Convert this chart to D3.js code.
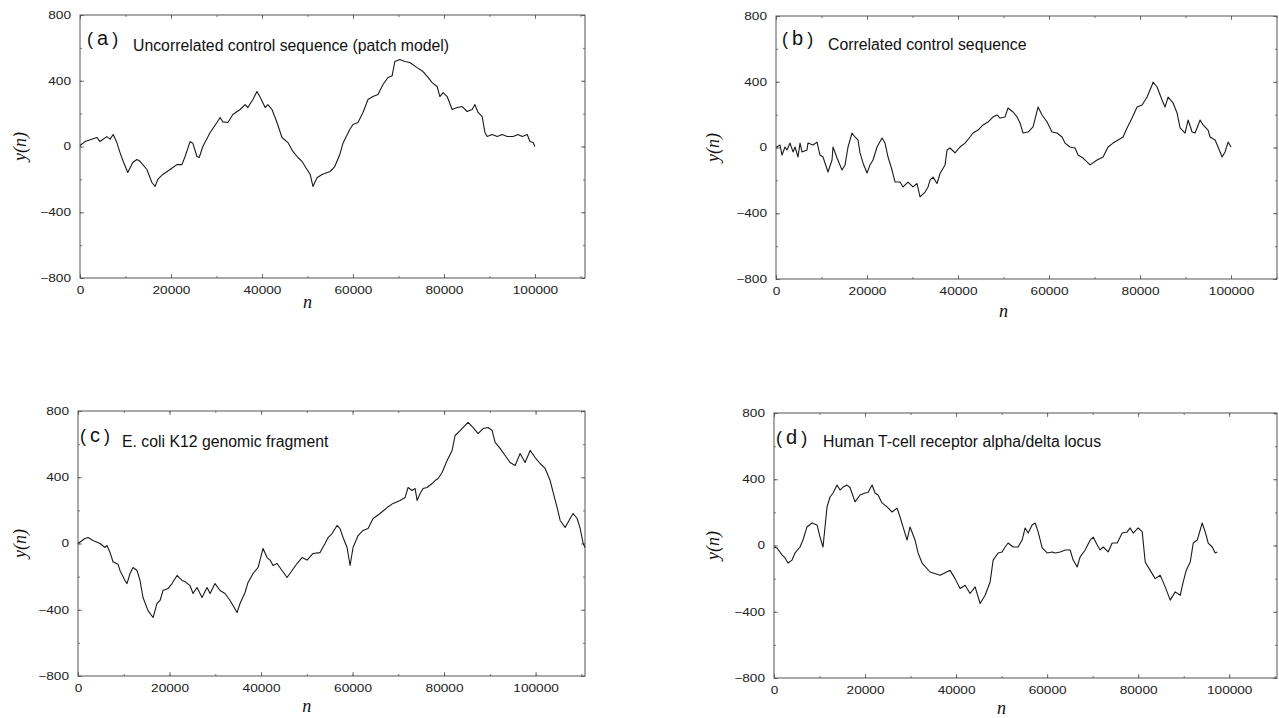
<!DOCTYPE html>
<html><head><meta charset="utf-8">
<script src="https://cdn.jsdelivr.net/npm/d3@7"></script>
<style>body{margin:0;background:#fff}svg{display:block}</style>
</head><body><svg id="chart" width="1279" height="718"></svg>
<script>
// ---- tick values ----
const xTicks = [0, 20000, 40000, 60000, 80000, 100000];
const xMinorTicks = [0,10000,20000,30000,40000,50000,60000,70000,80000,90000,100000,110000];
const yTicks = [-800, -400, 0, 400, 800];
const yMinorTicks = [-800,-600,-400,-200,0,200,400,600,800];
const panelLetters = ["a", "b", "c", "d"];
const panelTitles = ["Uncorrelated control sequence (patch model)", "Correlated control sequence",
  "E. coli K12 genomic fragment", "Human T-cell receptor alpha/delta locus"];
const xDomainMax = [111000, 110100, 110800, 110500];

// ---- series (a) ----
const nA = [0,1100,3700,4400,5900,6600,7300,8100,8800,9500,10500,11600,12500,13200,14700,15800,16500,17100,18200,19800,21300,22400,23100,24200,24800,25700,26200,27000,28600,30100,30800,31400,32500,33600,35200,36300,36900,38000,38900,39600,40700,41300,42200,43300,44400,45700,46800,47900,48800,49900,50600,51200,52100,53200,55000,56000,57100,57800,59300,60000,61100,62200,63300,64400,65500,66600,67700,68600,69200,70300,71400,72500,74100,75400,76500,77400,78500,79100,79800,80700,81800,82900,84000,85100,86200,86800,87500,88400,89000,89500,90600,91700,92800,93900,95200,96300,97200,98300,98900,99600,100000];
const yA = [6,30,55,30,60,45,73,24,-37,-91,-158,-97,-79,-90,-140,-219,-243,-200,-170,-140,-110,-110,-61,30,20,-61,-67,0,85,146,176,150,146,195,225,255,237,286,335,300,237,255,225,146,55,24,-30,-67,-91,-140,-170,-243,-190,-170,-152,-122,-49,20,103,134,146,207,286,304,316,377,420,430,517,529,517,511,480,456,420,389,365,304,328,304,225,237,243,213,225,255,207,182,85,61,73,61,73,61,61,73,61,73,30,24,0];

// ---- series (b) ----
const nB = [0,880,1320,1980,2420,3080,3740,4180,4840,5280,5710,6810,7030,8130,9010,9670,10330,11430,12310,12530,13410,14510,15170,15830,16700,17360,18020,18460,19120,20000,20660,21320,22200,23300,23960,24620,25500,26160,27260,27910,29010,30110,30990,31650,32750,33410,33850,34510,35390,36050,37150,37590,38250,39340,40440,41540,42640,43300,44400,45500,46600,47700,48580,49240,50330,50990,52090,52970,53630,54290,55390,56490,57590,58470,59570,60660,61760,62860,63520,64620,65720,66380,67480,69020,70560,71880,72970,74070,75170,76270,77150,78250,79350,80450,81550,82650,82870,83740,84840,85500,86160,87260,88140,88800,89900,90560,91440,92100,93200,93850,94950,95390,96490,97150,98030,98690,99350,100000];
const yB = [0,15,-46,3,-15,27,-27,3,-58,27,-27,-15,27,15,33,-46,-58,-149,-76,3,-64,-137,-106,3,88,64,46,-33,-94,-155,-106,-76,3,58,27,-58,-137,-210,-210,-240,-210,-240,-219,-301,-271,-240,-198,-180,-219,-158,-106,-15,-3,-33,3,27,64,88,106,137,155,186,198,179,186,240,216,186,149,88,94,125,246,198,155,94,88,64,27,3,-3,-46,-64,-106,-76,-58,3,27,46,64,119,179,246,259,307,380,398,368,289,246,307,271,210,119,88,167,94,88,167,137,106,64,46,3,-58,-27,33,3];

// ---- series (c) ----
const nC = [0,1530,2190,3280,4810,5900,6340,7000,7650,8740,9180,10270,10710,11370,12020,12900,13550,14210,15300,16400,17270,17930,18580,19670,20550,21640,22740,23390,24480,25140,26010,27110,28200,28860,29950,31040,32130,33230,33880,34760,35410,36510,37160,38260,39350,40440,41320,41970,42630,43500,44590,45690,46780,47870,48970,50060,51370,52900,53990,54650,55520,56620,57270,57930,58800,59460,60110,61210,62300,63390,64490,66020,67550,68860,70390,71480,72140,73010,73670,74110,74760,75420,76290,77380,78040,78700,79570,80660,81760,82410,83510,84600,85250,86350,87440,88530,89630,90500,91160,92250,93340,94440,95530,96620,97710,98810,99900,100990,102090,103180,103840,104710,105370,106460,107550,108210,109080,109740,110390,110830];
const yC = [0,30,36,18,0,-24,-12,-54,-110,-125,-163,-223,-242,-181,-145,-163,-223,-326,-405,-447,-362,-344,-284,-272,-242,-193,-223,-230,-254,-302,-266,-326,-266,-302,-242,-284,-302,-344,-374,-417,-362,-296,-235,-181,-145,-30,-85,-100,-133,-121,-163,-205,-163,-121,-85,-100,-60,-55,0,36,60,109,90,36,-24,-133,-24,48,79,91,151,181,217,242,260,278,338,320,332,260,302,332,338,362,380,392,429,501,562,652,682,713,731,700,664,694,700,682,610,574,531,489,471,543,489,562,519,483,453,380,308,217,139,97,151,181,151,91,0,-24];

// ---- series (d) ----
const nD = [0,660,1760,2420,3080,3960,4620,5710,6370,7250,8350,9450,10110,10770,11650,12310,12970,13850,14510,15170,16050,16700,17800,18900,20000,20660,21540,22200,22860,23740,24840,25940,27040,27690,28350,29230,29890,30990,31650,32530,34290,36490,38680,39780,40880,41980,43080,44180,45280,46380,47480,48140,49240,50110,50770,51430,52530,53630,54510,55170,55830,56710,57370,58030,58910,60010,61100,61760,62860,63960,65060,65720,66600,67260,68360,69460,70120,71000,71650,72310,73410,74290,75390,76490,77590,78250,78910,80010,80890,81550,82640,83740,84840,85940,87040,88140,89240,89900,90560,91440,92100,92980,94070,94730,95390,96270,96930,97370];
const yD = [-9,-15,-57,-75,-106,-88,-45,-9,33,112,136,124,51,-9,233,293,317,365,335,353,365,350,263,305,317,320,365,317,305,257,233,202,226,172,112,33,112,33,-45,-106,-160,-180,-150,-200,-260,-240,-290,-250,-350,-300,-220,-88,-45,-39,-9,15,-9,-9,33,106,75,124,136,82,-15,-45,-39,-45,-39,-27,-27,-88,-130,-69,-27,33,51,3,-27,-9,-39,15,15,75,82,106,75,106,82,-100,-150,-200,-180,-250,-330,-280,-300,-220,-150,-100,15,33,136,82,15,-9,-45,-39];

const seriesN = [nA, nB, nC, nD];
const seriesY = [yA, yB, yC, yD];

// ---- layout (pixels) ----
const layout = [
  {L:80,  R:585,  T:15,  B:278, lx:87,  ly:45,  tx:133, ty:51,  yl:20,  nl:302},
  {L:776, R:1277, T:16,  B:279, lx:782, ly:45,  tx:828, ty:50,  yl:713, nl:311},
  {L:78,  R:585,  T:411, B:676, lx:80,  ly:442, tx:122, ty:447, yl:20,  nl:706},
  {L:774, R:1277, T:413, B:678, lx:776, ly:444, tx:823, ty:447, yl:713, nl:708}
];

const svg = d3.select("#chart");
const axisColor = "#555";
const SX = 1.3; // horizontal stretch of tick digits

layout.forEach((p, i) => {
  const x = d3.scaleLinear().domain([0, xDomainMax[i]]).range([p.L, p.R]);
  const y = d3.scaleLinear().domain([-800, 800]).range([p.B, p.T]);
  const g = svg.append("g");

  g.append("rect").attr("x", p.L).attr("y", p.T).attr("width", p.R - p.L).attr("height", p.B - p.T)
    .attr("fill", "none").attr("stroke", axisColor).attr("stroke-width", 1);

  function styleAxis(sel) {
    sel.select(".domain").remove();
    sel.selectAll("line").attr("stroke", axisColor).attr("stroke-width", 0.8);
  }
  g.append("g").attr("transform", `translate(0,${p.B})`)
    .call(d3.axisBottom(x).tickValues(xMinorTicks).tickSize(-2).tickFormat("")).call(styleAxis);
  g.append("g").attr("transform", `translate(0,${p.T})`)
    .call(d3.axisTop(x).tickValues(xMinorTicks).tickSize(-2).tickFormat("")).call(styleAxis);
  g.append("g").attr("transform", `translate(${p.L},0)`)
    .call(d3.axisLeft(y).tickValues(yMinorTicks).tickSize(-2).tickFormat("")).call(styleAxis);
  g.append("g").attr("transform", `translate(${p.R},0)`)
    .call(d3.axisRight(y).tickValues(yMinorTicks).tickSize(-2).tickFormat("")).call(styleAxis);
  g.append("g").attr("transform", `translate(0,${p.T})`)
    .call(d3.axisTop(x).tickValues(xTicks).tickSize(-4).tickFormat("")).call(styleAxis);
  g.append("g").attr("transform", `translate(${p.R},0)`)
    .call(d3.axisRight(y).tickValues(yTicks).tickSize(-4).tickFormat("")).call(styleAxis);

  const xb = g.append("g").attr("transform", `translate(0,${p.B})`)
    .call(d3.axisBottom(x).tickValues(xTicks).tickSizeInner(-4).tickSizeOuter(0).tickPadding(9).tickFormat(d3.format("d")))
    .call(styleAxis);
  xb.selectAll("text").attr("font-family", "'Liberation Sans', Arial, sans-serif").attr("font-size", 10.5)
    .attr("fill", "#222").attr("transform", `scale(${SX},1)`);

  const yb = g.append("g").attr("transform", `translate(${p.L},0)`)
    .call(d3.axisLeft(y).tickValues(yTicks).tickSizeInner(-4).tickSizeOuter(0).tickPadding(9).tickFormat(d3.format("d")))
    .call(styleAxis);
  yb.selectAll("text").attr("font-family", "'Liberation Sans', Arial, sans-serif").attr("font-size", 10.5)
    .attr("fill", "#222").attr("x", -9 / SX).attr("transform", `scale(${SX},1)`);

  const pts = seriesN[i].map((n, k) => [n, seriesY[i][k]]);
  g.append("path").datum(pts)
    .attr("d", d3.line().x(d => x(d[0])).y(d => y(d[1])))
    .attr("fill", "none").attr("stroke", "#1a1a1a").attr("stroke-width", 1.1).attr("stroke-linejoin", "round");

  const lt = g.append("text").attr("x", p.lx).attr("y", p.ly)
    .attr("font-family", "'Liberation Sans', Arial, sans-serif").attr("fill", "#111");
  lt.append("tspan").attr("font-size", 18).text("(");
  lt.append("tspan").attr("font-size", 20).attr("dx", 4).text(panelLetters[i]);
  lt.append("tspan").attr("font-size", 18).attr("dx", 4).text(")");

  g.append("text").attr("x", p.tx).attr("y", p.ty)
    .attr("font-family", "'Liberation Sans', Arial, sans-serif").attr("font-size", 15.8).attr("fill", "#111")
    .text(panelTitles[i]);

  g.append("text").attr("transform", `translate(${p.yl},${y(0)}) rotate(-90)`)
    .attr("text-anchor", "middle").attr("dy", "0.35em")
    .attr("font-family", "'Liberation Serif', 'DejaVu Serif', serif").attr("font-style", "italic")
    .attr("font-size", 18).attr("fill", "#111").text("y(n)");
  g.append("text").attr("x", x(50000)).attr("y", p.nl)
    .attr("text-anchor", "middle").attr("dy", "0.35em")
    .attr("font-family", "'Liberation Serif', 'DejaVu Serif', serif").attr("font-style", "italic")
    .attr("font-size", 18).attr("fill", "#111").text("n");
});
</script>
</body></html>
